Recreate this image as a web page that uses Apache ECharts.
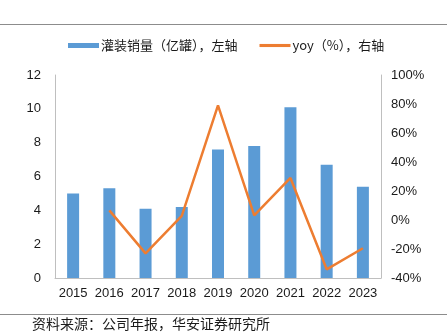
<!DOCTYPE html>
<html>
<head>
<meta charset="utf-8">
<script src="https://cdn.jsdelivr.net/npm/echarts@6/dist/echarts.min.js"></script>
<style>
  html, body { margin: 0; padding: 0; background: #fff; }
  #chart { width: 447px; height: 336px; }
</style>
</head>
<body>
<div id="chart"></div>
<script>
// Annual canned sales volume (100m cans) and year-over-year growth (%)
const years = ['2015', '2016', '2017', '2018', '2019', '2020', '2021', '2022', '2023'];
const volume = [5.0, 5.3, 4.1, 4.2, 7.6, 7.8, 10.1, 6.7, 5.4];
const yoy = [null, 6.6, -23, 2.8, 79, 3.2, 29, -34, -19.5];

const volumeName = '灌装销量（亿罐），左轴';
const yoyName = 'yoy（%），右轴';
const sourceNote = '资料来源：公司年报，华安证券研究所';

const chart = echarts.init(document.getElementById('chart'), null, { renderer: 'canvas' });
const axisFont = { fontFamily: 'Liberation Sans, Arial, sans-serif', fontSize: 13, color: '#1a1a1a' };

chart.setOption({
  animation: false,
  backgroundColor: '#ffffff',
  graphic: [
    { type: 'line', shape: { x1: 0, y1: 24.5, x2: 447, y2: 24.5 }, style: { stroke: '#8c8c8c', lineWidth: 1 } },
    { type: 'line', shape: { x1: 0, y1: 314.5, x2: 447, y2: 314.5 }, style: { stroke: '#8c8c8c', lineWidth: 1 } },
    { type: 'text', left: 32, top: 317, style: { text: sourceNote, font: '14px "Noto Sans CJK SC"', fill: '#1a1a1a' } }
  ],
  legend: {
    top: 34,
    left: 63,
    itemGap: 22,
    itemWidth: 31,
    itemHeight: 5,
    textStyle: { fontFamily: 'Noto Sans CJK SC', fontSize: 13, color: '#1a1a1a', padding: [0, 0, 0, -3] },
    data: [
      { name: volumeName, icon: 'rect' },
      { name: yoyName, icon: 'path://M0,0 L10,0 L10,1 L0,1 Z' }
    ]
  },
  grid: { left: 55, right: 66, top: 75, bottom: 58, containLabel: false },
  xAxis: {
    type: 'category',
    data: years,
    axisLine: { show: true, lineStyle: { color: '#bfbfbf', width: 1 } },
    axisTick: { show: false },
    axisLabel: Object.assign({ margin: 9, interval: 0 }, axisFont)
  },
  yAxis: [
    {
      type: 'value', min: 0, max: 12, interval: 2,
      axisLine: { show: true, lineStyle: { color: '#bfbfbf' } },
      axisTick: { show: false },
      splitLine: { show: false },
      axisLabel: Object.assign({ margin: 14 }, axisFont)
    },
    {
      type: 'value', min: -40, max: 100, interval: 20,
      position: 'right',
      axisLine: { show: true, lineStyle: { color: '#bfbfbf' } },
      axisTick: { show: false },
      splitLine: { show: false },
      axisLabel: Object.assign({ margin: 10, formatter: '{value}%' }, axisFont)
    }
  ],
  series: [
    {
      name: volumeName,
      type: 'bar',
      data: volume,
      barWidth: 12,
      itemStyle: { color: '#5B9BD5' }
    },
    {
      name: yoyName,
      type: 'line',
      yAxisIndex: 1,
      data: yoy,
      symbol: 'none',
      connectNulls: false,
      lineStyle: { color: '#ED7D31', width: 2.5 },
      itemStyle: { color: '#ED7D31' }
    }
  ]
});
</script>
</body>
</html>
